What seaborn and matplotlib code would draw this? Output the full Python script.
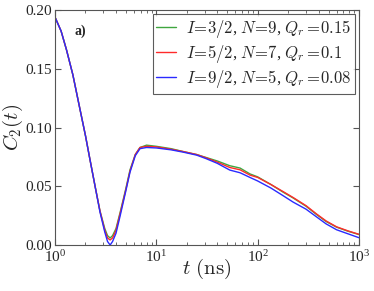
# C2(t) correlation curves for three spin / cluster choices

import numpy as np
import pandas as pd
import matplotlib
matplotlib.use("Agg")
import matplotlib.pyplot as plt
import seaborn as sns

t_ns = [1, 1.15, 1.3, 1.5, 1.77, 2.0, 2.2, 2.5, 2.78, 3.1, 3.3, 3.5, 3.7, 4.0,
        4.4, 5.0, 5.5, 6.2, 6.9, 8.0, 10, 14, 18.5, 25, 31, 40, 53, 67, 84,
        100, 135, 178, 224, 300, 380, 473, 600, 780, 1000]

c2_green = [0.194, 0.182, 0.166, 0.145, 0.115, 0.093, 0.074, 0.049, 0.029,
            0.014, 0.008, 0.006, 0.008, 0.014, 0.028, 0.048, 0.064, 0.077,
            0.083, 0.085, 0.084, 0.082, 0.0795, 0.077, 0.0745, 0.0715, 0.0675,
            0.0655, 0.0605, 0.058, 0.0515, 0.045, 0.040, 0.033, 0.026, 0.020,
            0.0152, 0.0117, 0.0089]

c2_red = [0.194, 0.182, 0.166, 0.145, 0.115, 0.093, 0.074, 0.049, 0.029,
          0.0125, 0.006, 0.0043, 0.006, 0.0125, 0.027, 0.047, 0.063, 0.077,
          0.083, 0.084, 0.0835, 0.0815, 0.0795, 0.077, 0.0742, 0.0705, 0.066,
          0.064, 0.0595, 0.0575, 0.0515, 0.0455, 0.0404, 0.0335, 0.0265,
          0.0205, 0.0155, 0.012, 0.0091]

c2_blue = [0.194, 0.182, 0.166, 0.145, 0.115, 0.093, 0.074, 0.049, 0.028,
           0.011, 0.003, 0.0, 0.003, 0.010, 0.025, 0.046, 0.062, 0.076,
           0.082, 0.083, 0.0826, 0.081, 0.079, 0.0765, 0.0735, 0.0695, 0.0638,
           0.0615, 0.0575, 0.0545, 0.0485, 0.042, 0.0365, 0.0305, 0.024,
           0.018, 0.013, 0.0095, 0.0062]

labels = [r"$I\!=\!3/2$, $N\!=\!9$, $Q_r=\!0.15$",
          r"$I\!=\!5/2$, $N\!=\!7$, $Q_r=\!0.1$",
          r"$I\!=\!9/2$, $N\!=\!5$, $Q_r=\!0.08$"]
colors = ["#3fa63f", "#ff2a2a", "#2a2aff"]

# Build long table for seaborn
df = pd.concat([
    pd.DataFrame({"t": t_ns, "C2": vals, "case": lab})
    for vals, lab in zip([c2_green, c2_red, c2_blue], labels)
])

# Style ........................................................................

sns.set_style("ticks")
plt.rcParams["font.family"] = ["Liberation Serif", "DejaVu Serif"]
plt.rcParams["mathtext.fontset"] = "cm"
plt.rcParams["xtick.direction"] = "in"
plt.rcParams["ytick.direction"] = "in"

# Plot .........................................................................

fig = plt.figure(figsize = (3.74, 2.91), dpi = 100)
ax = fig.add_axes([0.147, 0.158, 0.813, 0.8076])

sns.lineplot(data = df, x = "t", y = "C2", hue = "case", palette = colors,
             linewidth = 1.0, ax = ax, sort = False)

ax.set_xscale("log")
ax.set_xlim(1, 1000)
ax.set_ylim(0, 0.2)
ax.set_yticks([0, 0.05, 0.10, 0.15, 0.20])
ax.set_yticklabels(["0.00", "0.05", "0.10", "0.15", "0.20"])
ax.tick_params(which = "both", top = True, right = True, labelsize = 11,
               color = "#555555", pad = 2)
ax.tick_params(axis = "x", pad = 3)
ax.tick_params(which = "major", length = 4)
ax.tick_params(which = "minor", length = 2)
for sp in ax.spines.values():
    sp.set_color("#555555")

ax.set_xlabel(r"$t\ (\mathrm{ns})$", fontsize = 15)
ax.set_ylabel(r"$C_2(t)$", fontsize = 15)
ax.xaxis.set_label_coords(0.5, -0.05)
ax.yaxis.set_label_coords(-0.10, 0.5)

ax.text(0.065, 0.91, "a)", transform = ax.transAxes, fontsize = 10,
        fontweight = "bold", va = "center")

leg = ax.legend(loc = "upper right", fontsize = 12, handlelength = 1.2,
                frameon = True, fancybox = False, borderpad = 0.2,
                labelspacing = 0.2, handletextpad = 0.6,
                borderaxespad = 0.25)
leg.get_frame().set_edgecolor("#333333")
leg.get_frame().set_linewidth(0.8)

fig.savefig("out.png", dpi = 100)
